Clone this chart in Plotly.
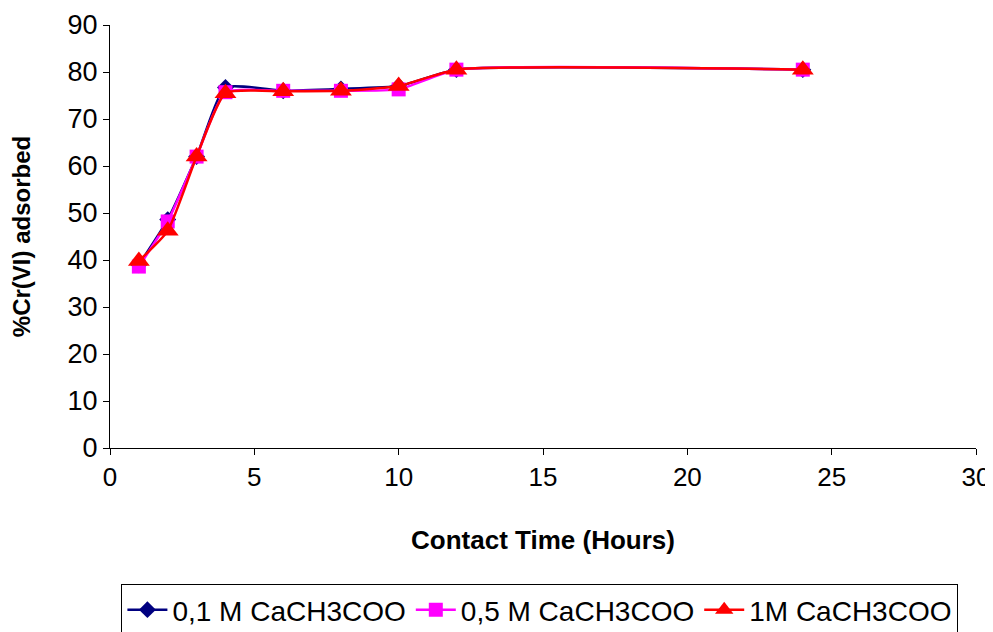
import plotly.graph_objects as go

hours = [1, 2, 3, 4, 6, 8, 10, 12, 24]
s_01 = [39.0, 48.6, 62.0, 76.7, 76.0, 76.4, 77.0, 80.5, 80.5]
s_05 = [38.6, 48.2, 62.0, 75.7, 76.0, 76.0, 76.3, 80.5, 80.5]
s_1 = [39.8, 46.2, 62.0, 75.5, 75.9, 76.0, 77.0, 80.5, 80.5]

names = ["0,1 M CaCH3COO", "0,5 M CaCH3COO", "1M CaCH3COO"]
y_ticks = [0, 10, 20, 30, 40, 50, 60, 70, 80, 90]
x_ticks = [0, 5, 10, 15, 20, 25, 30]

fig = go.Figure()
fig.add_trace(go.Scatter(x=hours, y=s_01, name=names[0], mode="lines+markers",
                         line=dict(color="#000080", width=2.5, shape="spline", smoothing=0.5),
                         marker=dict(symbol="diamond", size=13, color="#000080")))
fig.add_trace(go.Scatter(x=hours, y=s_05, name=names[1], mode="lines+markers",
                         line=dict(color="#FF00FF", width=2.5, shape="spline", smoothing=0.5),
                         marker=dict(symbol="square", size=14, color="#FF00FF")))
fig.add_trace(go.Scatter(x=hours, y=s_1, name=names[2], mode="lines+markers",
                         line=dict(color="#FF0000", width=2.5, shape="spline", smoothing=0.5),
                         marker=dict(symbol="triangle-up", size=19, color="#FF0000")))

fig.update_layout(
    width=985, height=624,
    margin=dict(l=102, r=17, t=17, b=184),
    plot_bgcolor="white", paper_bgcolor="white",
    font=dict(family="Arial, Liberation Sans, sans-serif", color="black"),
    showlegend=True,
    legend=dict(orientation="h", x=0.54, xanchor="center", xref="container",
                y=0.077, yanchor="top", yref="container",
                bordercolor="black", borderwidth=1, font=dict(size=28),
                itemwidth=40, tracegroupgap=0, bgcolor="white"),
    xaxis=dict(range=[0, 30], tickvals=x_ticks, showline=True, linecolor="black", linewidth=1,
               ticks="outside", ticklen=6, tickcolor="black", showgrid=False, zeroline=False,
               tickfont=dict(size=26), automargin=False,
               title=dict(text="<b>Contact Time (Hours)</b>", font=dict(size=26), standoff=39)),
    yaxis=dict(range=[0, 90], tickvals=y_ticks, showline=True, linecolor="black", linewidth=1,
               ticks="outside", ticklen=6, tickcolor="black", showgrid=False, zeroline=False,
               tickfont=dict(size=27), automargin=False,
               title=dict(text="<b>%Cr(VI) adsorbed</b>", font=dict(size=24), standoff=31)),
)

fig.write_html("out.html")
